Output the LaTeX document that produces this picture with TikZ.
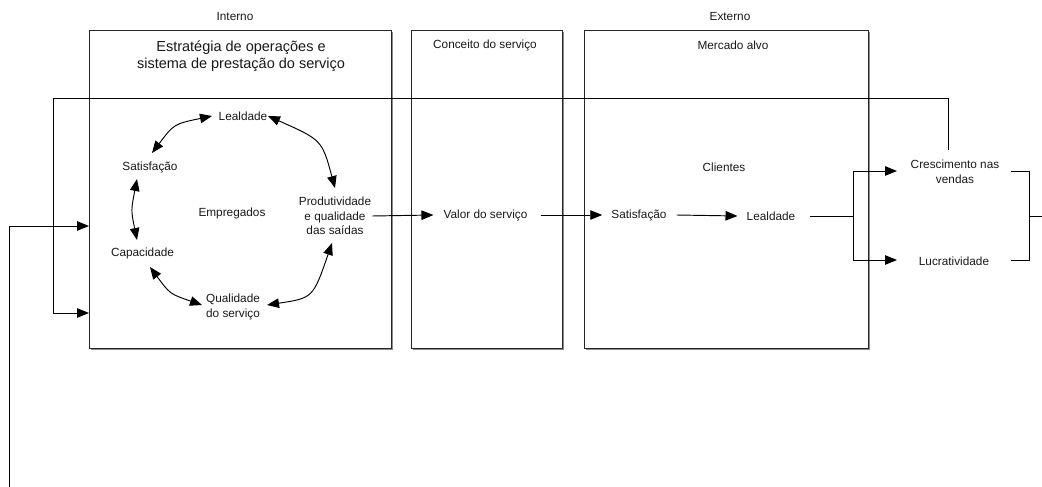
\documentclass[tikz,border=0pt]{standalone}
\usepackage{fontspec}
\setmainfont{Liberation Sans}
\usetikzlibrary{arrows.meta,calc,shadows}
\tikzset{
  headtip/.tip={Triangle[length=12pt 0 0,width=9.5pt 0 0]},
}
\begin{document}
\begin{tikzpicture}[x=1pt,y=-1pt,
  lbl/.style={inner sep=0pt, font=\fontsize{11.8}{14.5}\selectfont, align=center, text=black!90},
  panel/.style={draw=black!85, line width=1pt, fill=white, inner sep=0pt, anchor=north west,
    drop shadow={shadow xshift=1.3pt, shadow yshift=-1.3pt, fill=black!45, opacity=1}},
  wire/.style={draw=black, line width=0.95pt},
  tip/.style={wire, -headtip},
  twoway/.style={wire, headtip-headtip},
]
\useasboundingbox (0,0) rectangle (1042,487);

% panels
\node[panel, minimum width=302pt, minimum height=318pt] (ops) at (89,30) {};
\node[panel, minimum width=151pt, minimum height=318pt] (conc) at (411,30) {};
\node[panel, minimum width=284pt, minimum height=318pt] (merc) at (584,30) {};

% headings
\node[lbl] (interno) at (235,16) {Interno};
\node[lbl] (externo) at (730,16) {Externo};
\node[lbl, font=\fontsize{14.5}{17.5}\selectfont] (title) at (241,56) {Estratégia de operações e\\sistema de prestação do serviço};
\node[lbl] (conclbl) at (485,45) {Conceito do serviço};
\node[lbl] (merclbl) at (733,45) {Mercado alvo};

% internal cycle
\node[lbl] (lealI) at (243,116) {Lealdade};
\node[lbl] (satI) at (150,167) {Satisfação};
\node[lbl] (capI) at (142.5,253) {Capacidade};
\node[lbl] (empr) at (232,213) {Empregados};
\node[lbl] (prod) at (335,216) {Produtividade\\e qualidade\\das saídas};
\node[lbl] (qual) at (233,307) {Qualidade\\do serviço};

% external chain
\node[lbl] (valor) at (485.5,215) {Valor do serviço};
\node[lbl] (satO) at (639,215) {Satisfação};
\node[lbl] (client) at (724,167) {Clientes};
\node[lbl] (lealO) at (771,216) {Lealdade};
\node[lbl] (cresc) at (955,172) {Crescimento nas\\vendas};
\node[lbl] (lucr) at (954,261) {Lucratividade};

% cycle arcs
\draw[twoway] ($(lealI)+(-31,0)$) .. controls (174,124) .. ($(satI)+(2,-14)$);
\draw[twoway] ($(lealI)+(25,0)$) .. controls (322,140) .. ($(prod)+(0,-28)$);
\draw[twoway] ($(satI)+(-13,12)$) .. controls (131,210.5) .. ($(capI)+(-5.5,-13)$);
\draw[twoway] ($(capI)+(7.5,14)$) .. controls (170,294) .. ($(qual)+(-31,-2)$);
\draw[twoway] ($(qual)+(34,-2)$) .. controls (313,298) .. ($(prod)+(-3,27)$);

% value chain
\draw[tip] ($(prod.east)+(1,0)$) -- ($(valor.west)+(-10,0)$);
\draw[tip] ($(valor.east)+(13,0)$) -- ($(satO.west)+(-9,0)$);
\draw[tip] ($(satO.east)+(10,0)$) -- ($(lealO.west)+(-9,0)$);

\coordinate (split) at (853,216);
\coordinate (tipCol) at (897,0);
\draw[wire] ($(lealO.east)+(15,0)$) -- (split);
\draw[tip] (split) |- ($(cresc.west -| tipCol)+(0,-1)$);
\draw[tip] (split) |- ($(lucr.west -| tipCol)+(0,-1)$);

\coordinate (outCol) at (1011,0);
\coordinate (brX) at (1029,0);
\coordinate (outR) at (1042,216);
\draw[wire] ($(cresc.east -| outCol)+(0,-1)$) -| ($(lucr.east -| brX)+(0,-1)$) -- ($(lucr.east -| outCol)+(0,-1)$);
\draw[wire] (brX |- outR) -- (outR);

% feedback loops
\coordinate (fbTop) at (948,150);
\draw[tip] (fbTop) |- (53,98) |- ($(ops.north west)+(0,283)$);
\coordinate (fbLow) at (9,487);
\draw[tip] (fbLow) |- ($(ops.north west)+(0,196)$);
\end{tikzpicture}
\end{document}
